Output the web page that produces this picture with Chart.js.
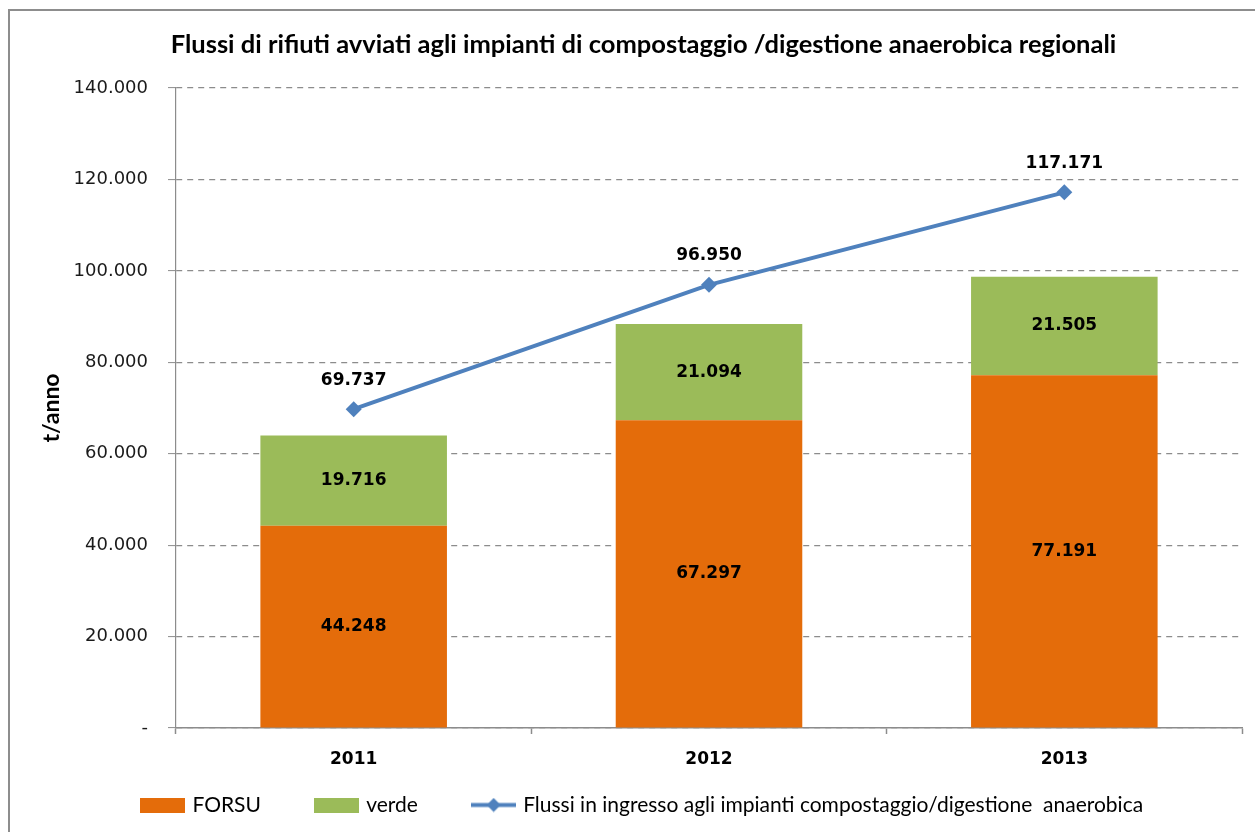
<script src="https://cdn.jsdelivr.net/npm/chart.js"></script>
<style>
  body { margin: 0; background: #fff; }
  #wrap { position: relative; width: 1255px; height: 832px; overflow: hidden; }
  #frame { position: absolute; left: 8px; top: 9px; width: 1400px; height: 1000px; border: 2px solid #8d8d8d; }
  #chart { position: absolute; left: 0; top: 0; }
</style>

<div id="wrap">
  <div id="frame"></div>
  <canvas id="chart" width="1255" height="832"></canvas>
</div>

<script>
  const years = ['2011', '2012', '2013'];
  const forsu = [44248, 67297, 77191];
  const verde = [19716, 21094, 21505];
  const flussi = [69737, 96950, 117171];
  const yTicks = [0, 20000, 40000, 60000, 80000, 100000, 120000, 140000];

  const ORANGE = '#E46C0A';
  const GREEN = '#9BBB59';
  const BLUE = '#4F81BD';
  const GRID = '#8c8c8c';

  function fmt(v) {
    if (v === 0) return '-';
    return String(v).replace(/\B(?=(\d{3})+(?!\d))/g, '.');
  }

  // little pictures for the legend keys
  function swatch(color) {
    const c = document.createElement('canvas');
    c.width = 45; c.height = 15;
    const g = c.getContext('2d');
    g.fillStyle = color;
    g.fillRect(0, 0, 45, 15);
    return c;
  }
  function lineKey() {
    const c = document.createElement('canvas');
    c.width = 45; c.height = 15;
    const g = c.getContext('2d');
    g.strokeStyle = BLUE;
    g.lineWidth = 4;
    g.beginPath(); g.moveTo(0, 7.5); g.lineTo(45, 7.5); g.stroke();
    g.fillStyle = BLUE;
    g.beginPath();
    g.moveTo(22.5, 0.5); g.lineTo(29.5, 7.5); g.lineTo(22.5, 14.5); g.lineTo(15.5, 7.5);
    g.closePath(); g.fill();
    return c;
  }
  const keys = [swatch(ORANGE), swatch(GREEN), lineKey()];
  // extra room after the first two legend texts (legend padding is shared with height)
  const legendGap = ['      ', '      ', ''];

  const valueLabels = {
    id: 'valueLabels',
    afterDatasetsDraw(chart) {
      const ctx = chart.ctx;
      ctx.save();
      ctx.font = 'bold 17px "DejaVu Sans"';
      ctx.fillStyle = '#000';
      ctx.textAlign = 'center';
      ctx.textBaseline = 'middle';
      chart.data.datasets.forEach((ds, i) => {
        const meta = chart.getDatasetMeta(i);
        meta.data.forEach((el, j) => {
          if (ds.type === 'line') {
            ctx.fillText(fmt(ds.data[j]), el.x, el.y - 29);
          } else {
            const p = el.getCenterPoint();
            ctx.fillText(fmt(ds.data[j]), p.x, p.y);
          }
        });
      });
      ctx.restore();
    }
  };

  new Chart(document.getElementById('chart'), {
    type: 'bar',
    data: {
      labels: years,
      datasets: [
        { label: 'FORSU', data: forsu, backgroundColor: ORANGE, stack: 'rif', order: 2,
          categoryPercentage: 1, barPercentage: 0.525 },
        { label: 'verde', data: verde, backgroundColor: GREEN, stack: 'rif', order: 2,
          categoryPercentage: 1, barPercentage: 0.525 },
        { type: 'line', label: 'Flussi in ingresso agli impianti compostaggio/digestione  anaerobica',
          data: flussi, stack: 'tot', order: 0, borderColor: BLUE, backgroundColor: BLUE,
          borderWidth: 4, pointStyle: 'rectRot', pointRadius: 8, pointBorderWidth: 0, tension: 0 }
      ]
    },
    options: {
      responsive: false,
      animation: false,
      layout: { padding: { left: 45, right: 13, top: 0, bottom: 6.5 } },
      plugins: {
        tooltip: { enabled: false },
        title: {
          display: true,
          text: 'Flussi di rifiuti avviati agli impianti di compostaggio /digestione anaerobica regionali',
          color: '#000',
          font: { family: 'Lato', size: 25.5, weight: 'bold', lineHeight: 1.2 },
          padding: { top: 29.7, bottom: 27.7 }
        },
        legend: {
          position: 'bottom',
          labels: {
            usePointStyle: true,
            pointStyleWidth: 38,
            boxHeight: 15,
            padding: 24.5,
            color: '#000',
            font: { family: 'Lato', size: 21 },
            generateLabels(chart) {
              return chart.data.datasets.map((ds, i) => ({
                text: ds.label + legendGap[i],
                pointStyle: keys[i],
                fillStyle: ds.backgroundColor,
                strokeStyle: 'transparent',
                lineWidth: 0,
                datasetIndex: i,
                hidden: false
              }));
            }
          }
        }
      },
      scales: {
        x: {
          stacked: true,
          afterFit(scale) { scale.height = 42; },
          grid: { display: true, drawOnChartArea: false, drawTicks: true, tickLength: 6,
                  color: GRID, tickColor: GRID, tickWidth: 1.5 },
          border: { display: true, color: GRID, width: 1.5 },
          ticks: { color: '#000', padding: 15,
                   font: { family: '"DejaVu Sans"', size: 17, weight: 'bold' } }
        },
        y: {
          stacked: true,
          min: 0,
          max: 140000,
          afterFit(scale) { scale.width = 131; },
          afterBuildTicks(scale) { scale.ticks = yTicks.map(v => ({ value: v })); },
          grid: { color: GRID, lineWidth: 1.2, drawTicks: true, tickLength: 8,
                  tickColor: GRID, tickWidth: 1, tickBorderDash: [] },
          border: { display: true, color: GRID, width: 1.2, dash: [6, 5] },
          ticks: { color: '#1a1a1a', padding: 20,
                   font: { family: '"DejaVu Sans"', size: 18 },
                   callback: v => fmt(v) },
          title: {
            display: true,
            text: 't/anno',
            color: '#000',
            font: { family: 'Lato', size: 23, weight: 'bold' },
            padding: { top: -7, bottom: 0 }
          }
        }
      }
    },
    plugins: [valueLabels]
  });
</script>
